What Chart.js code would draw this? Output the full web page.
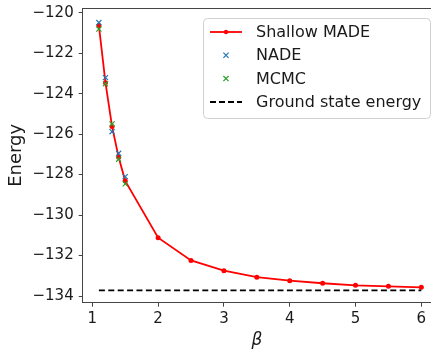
<!DOCTYPE html>
<html><head><meta charset="utf-8">
<script src="https://cdn.jsdelivr.net/npm/chart.js@4.4.1/dist/chart.umd.min.js"></script>
<style>html,body{margin:0;padding:0;background:#fff;overflow:hidden}#wrap{width:431px;height:351px;position:relative}</style>
</head><body><div id="wrap"><canvas id="c" width="431" height="351"></canvas></div>
<script>
const BETA = [1.1, 1.2, 1.3, 1.4, 1.5, 2, 2.5, 3, 3.5, 4, 4.5, 5, 5.5, 6];
const MADE_E = [-120.64, -123.46, -125.62, -127.14, -128.31, -131.12, -132.24, -132.75, -133.07, -133.24, -133.37, -133.47, -133.52, -133.57];
const NADE_BETA = [1.1, 1.2, 1.3, 1.4, 1.5];
const NADE_E = [-120.49, -123.21, -125.88, -126.95, -128.10];
const MCMC_BETA = [1.1, 1.2, 1.3, 1.4, 1.5];
const MCMC_E = [-120.81, -123.52, -125.50, -127.24, -128.46];
const GROUND_BETA = [1.1, 6];
const GROUND_E = -133.72;
const X_TICKS = [1, 2, 3, 4, 5, 6];
const Y_TICKS = [-134, -132, -130, -128, -126, -124, -122, -120];
const SERIES_NAMES = ['Shallow MADE', 'NADE', 'MCMC', 'Ground state energy'];
const X_TITLE = 'β';
const Y_TITLE = 'Energy';

const FONT = '"DejaVu Sans", "Liberation Sans", sans-serif';
const COLORS = ['#ff0000', '#1f77b4', '#2ca02c', '#000000'];
const AXIS = '#444';
const TEXT = '#1a1a1a';

const pts = (xs, ys) => xs.map((x, i) => ({x, y: Array.isArray(ys) ? ys[i] : ys}));
const fmt = v => (v < 0 ? '\u2212' + Math.abs(v) : String(v));

const frameAndLegend = {
  id: 'frameAndLegend',
  afterDraw(chart) {
    const {ctx, chartArea: a} = chart;
    ctx.save();
    ctx.strokeStyle = AXIS; ctx.lineWidth = 1;
    ctx.beginPath(); ctx.moveTo(a.left, a.top + 0.5); ctx.lineTo(a.right, a.top + 0.5); ctx.stroke();
    const bx = 203.5, by = 18.5, bw = 227, bh = 100;
    ctx.beginPath(); ctx.roundRect(bx, by, bw, bh, 4);
    ctx.fillStyle = 'rgba(255,255,255,0.85)'; ctx.fill();
    ctx.strokeStyle = '#d0d0d0'; ctx.lineWidth = 1; ctx.stroke();
    const rows = [32, 55.3, 78.6, 102];
    const x0 = 210, x1 = 242, xc = 226;
    ctx.font = '16px ' + FONT; ctx.textBaseline = 'middle'; ctx.textAlign = 'left';
    SERIES_NAMES.forEach((name, i) => {
      const y = rows[i];
      ctx.strokeStyle = COLORS[i]; ctx.fillStyle = COLORS[i];
      if (i === 0) {
        ctx.lineWidth = 1.8; ctx.setLineDash([]);
        ctx.beginPath(); ctx.moveTo(x0, y); ctx.lineTo(x1, y); ctx.stroke();
        ctx.beginPath(); ctx.arc(xc, y, 2.2, 0, Math.PI * 2); ctx.fill();
      } else if (i === 1 || i === 2) {
        ctx.lineWidth = 1.2; ctx.setLineDash([]);
        const r = 2.6;
        ctx.beginPath(); ctx.moveTo(xc - r, y - r); ctx.lineTo(xc + r, y + r);
        ctx.moveTo(xc - r, y + r); ctx.lineTo(xc + r, y - r); ctx.stroke();
      } else {
        ctx.lineWidth = 1.8; ctx.setLineDash([6, 3]);
        ctx.beginPath(); ctx.moveTo(x0, y); ctx.lineTo(x1, y); ctx.stroke();
        ctx.setLineDash([]);
      }
      ctx.fillStyle = TEXT;
      ctx.fillText(name, 256, y + 1);
    });
    ctx.restore();
  }
};

new Chart(document.getElementById('c'), {
  type: 'scatter',
  data: {
    datasets: [
      {label: SERIES_NAMES[0], data: pts(BETA, MADE_E), showLine: true, borderColor: COLORS[0], backgroundColor: COLORS[0],
       borderWidth: 1.8, pointRadius: 2.5, pointBorderWidth: 0, pointStyle: 'circle', order: 3},
      {label: SERIES_NAMES[1], data: pts(NADE_BETA, NADE_E), pointStyle: 'crossRot', pointRadius: 3.6, borderWidth: 1.2,
       borderColor: COLORS[1], backgroundColor: COLORS[1], order: 2},
      {label: SERIES_NAMES[2], data: pts(MCMC_BETA, MCMC_E), pointStyle: 'crossRot', pointRadius: 3.6, borderWidth: 1.2,
       borderColor: COLORS[2], backgroundColor: COLORS[2], order: 1},
      {label: SERIES_NAMES[3], data: pts(GROUND_BETA, GROUND_E), showLine: true, borderColor: COLORS[3], borderWidth: 1.8,
       borderDash: [6, 3.4], pointRadius: 0, order: 0}
    ]
  },
  options: {
    responsive: false, animation: false, devicePixelRatio: 1,
    layout: {autoPadding: false, padding: {top: 8, right: 0, left: 0, bottom: 0}},
    plugins: {legend: {display: false}, tooltip: {enabled: false}},
    scales: {
      x: {
        type: 'linear', min: 0.854, max: 6.147,
        afterBuildTicks: s => { s.ticks = X_TICKS.map(v => ({value: v})); },
        afterFit: s => { s.height = 48.3; s.paddingLeft = 0; s.paddingRight = 0; },
        grid: {drawOnChartArea: false, drawTicks: true, tickLength: 4, color: AXIS, lineWidth: 1},
        border: {display: true, color: AXIS, width: 1},
        ticks: {color: TEXT, font: {family: FONT, size: 15}, padding: 3, maxRotation: 0, callback: v => fmt(v)},
        title: {display: true, text: X_TITLE, color: TEXT, font: {family: FONT, size: 17, style: 'italic'}, padding: {top: 0, bottom: 0}}
      },
      y: {
        type: 'linear', min: -134.33, max: -119.77,
        afterBuildTicks: s => { s.ticks = Y_TICKS.map(v => ({value: v})); },
        afterFit: s => { s.width = 82.7; s.paddingTop = 0; s.paddingBottom = 0; },
        grid: {drawOnChartArea: false, drawTicks: true, tickLength: 4, color: AXIS, lineWidth: 1},
        border: {display: true, color: AXIS, width: 1},
        ticks: {color: TEXT, font: {family: FONT, size: 15}, padding: 5, callback: v => fmt(v)},
        title: {display: true, text: Y_TITLE, color: TEXT, font: {family: FONT, size: 18}, padding: {top: 6, bottom: 0}}
      }
    }
  },
  plugins: [frameAndLegend]
});
</script></body></html>
